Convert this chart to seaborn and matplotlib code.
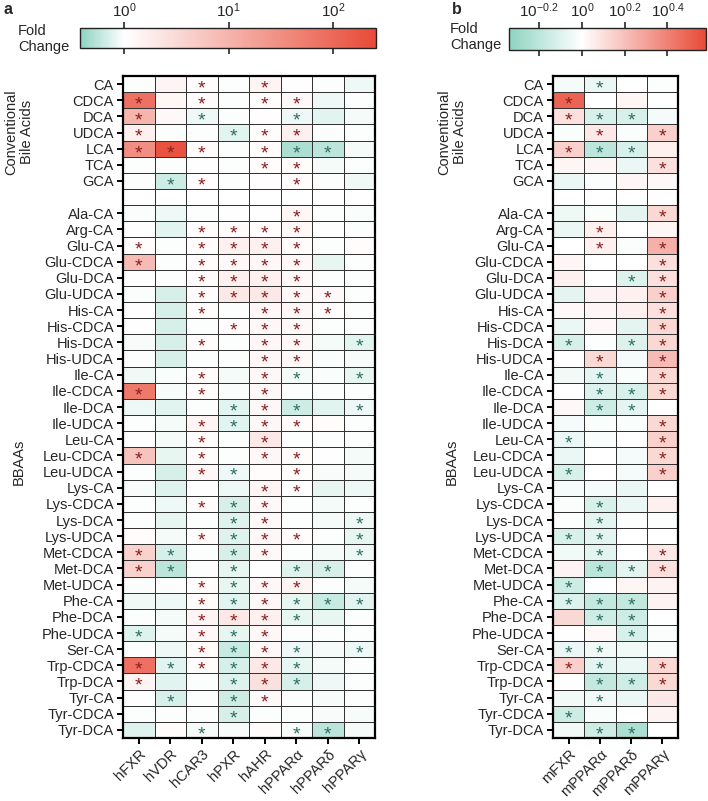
import numpy as np
import pandas as pd
import matplotlib
matplotlib.use("Agg")
import matplotlib.pyplot as plt
import seaborn as sns
from matplotlib.colors import LinearSegmentedColormap

sns.set_style("white")
plt.rcParams['font.family'] = ['Liberation Sans', 'DejaVu Sans']
plt.rcParams['mathtext.default'] = 'regular'

# row names
conventional = ["CA", "CDCA", "DCA", "UDCA", "LCA", "TCA", "GCA"]
bbaas = ["Ala-CA", "Arg-CA", "Glu-CA", "Glu-CDCA", "Glu-DCA", "Glu-UDCA",
         "His-CA", "His-CDCA", "His-DCA", "His-UDCA", "Ile-CA", "Ile-CDCA",
         "Ile-DCA", "Ile-UDCA", "Leu-CA", "Leu-CDCA", "Leu-UDCA", "Lys-CA",
         "Lys-CDCA", "Lys-DCA", "Lys-UDCA", "Met-CDCA", "Met-DCA", "Met-UDCA",
         "Phe-CA", "Phe-DCA", "Phe-UDCA", "Ser-CA", "Trp-CDCA", "Trp-DCA",
         "Tyr-CA", "Tyr-CDCA", "Tyr-DCA"]

receptors_a = ["hFXR", "hVDR", "hCAR3", "hPXR", "hAHR", "hPPARα", "hPPARδ", "hPPARγ"]
receptors_b = ["mFXR", "mPPARα", "mPPARδ", "mPPARγ"]

# log10 fold change, one list per row (conventional then BBAAs)
log_fc_a = [
    [0.00, 0.15, 0.05, 0.00, 0.15, 0.02, 0.00, -0.06],
    [1.90, 0.12, 0.05, 0.00, 0.05, 0.08, -0.06, 0.00],
    [1.00, 0.08, -0.06, 0.00, 0.03, -0.06, -0.10, -0.04],
    [0.20, 0.00, 0.00, -0.10, 0.05, 0.20, 0.00, 0.00],
    [1.50, 2.30, 0.05, 0.00, 0.05, -0.30, -0.25, -0.04],
    [0.00, 0.00, 0.02, 0.00, 0.05, 0.05, -0.04, 0.00],
    [0.00, -0.18, 0.03, 0.00, 0.03, 0.05, 0.00, -0.05],
    [-0.02, -0.06, 0.00, 0.02, 0.02, 0.12, 0.00, -0.02],
    [0.02, -0.10, 0.03, 0.05, 0.05, 0.08, 0.02, 0.00],
    [0.05, 0.00, 0.05, 0.20, 0.20, 0.05, 0.00, 0.05],
    [0.90, 0.00, 0.05, 0.08, 0.10, 0.08, -0.08, 0.00],
    [0.02, 0.00, 0.05, 0.20, 0.20, 0.08, 0.00, 0.00],
    [-0.02, -0.15, 0.05, 0.30, 0.30, 0.10, 0.08, 0.00],
    [0.02, -0.15, 0.05, 0.00, 0.10, 0.10, 0.05, 0.00],
    [0.02, -0.15, 0.00, 0.05, 0.10, 0.08, 0.00, 0.00],
    [-0.03, -0.15, 0.05, 0.00, 0.10, 0.10, -0.04, -0.10],
    [0.00, -0.15, 0.00, 0.00, 0.10, 0.08, -0.02, -0.03],
    [-0.05, -0.02, 0.05, -0.04, 0.10, -0.04, -0.02, -0.08],
    [1.80, -0.03, 0.05, -0.02, 0.10, 0.00, 0.00, 0.00],
    [-0.06, -0.10, 0.00, -0.10, 0.10, -0.18, -0.10, -0.06],
    [0.00, -0.04, 0.15, -0.10, 0.10, 0.05, 0.05, 0.00],
    [0.02, -0.04, 0.05, 0.00, 0.30, 0.00, 0.00, 0.00],
    [0.80, -0.08, 0.05, 0.00, 0.10, 0.05, 0.02, -0.04],
    [0.00, -0.15, 0.10, -0.06, 0.05, 0.05, -0.03, -0.04],
    [-0.03, -0.12, 0.02, -0.06, 0.15, 0.02, -0.08, -0.06],
    [0.00, -0.06, 0.05, -0.15, 0.08, 0.00, -0.04, 0.00],
    [0.00, -0.08, 0.00, -0.12, 0.08, 0.00, -0.04, -0.06],
    [0.05, -0.04, 0.05, -0.12, 0.10, 0.05, 0.00, -0.08],
    [0.60, -0.15, 0.00, -0.15, 0.08, 0.00, -0.04, -0.06],
    [0.60, -0.25, 0.00, -0.08, 0.02, -0.12, -0.15, 0.00],
    [0.00, 0.00, 0.05, -0.08, 0.10, 0.15, 0.00, -0.04],
    [-0.05, -0.06, 0.05, -0.10, 0.10, -0.08, -0.20, -0.10],
    [0.00, -0.04, 0.15, 0.30, 0.20, -0.08, -0.08, 0.00],
    [-0.12, -0.04, 0.08, -0.08, 0.10, 0.00, 0.00, 0.00],
    [0.00, -0.06, 0.05, -0.20, 0.08, -0.06, -0.04, -0.06],
    [1.90, -0.10, 0.05, -0.15, 0.30, -0.08, -0.04, 0.00],
    [0.15, -0.10, 0.00, -0.12, 0.40, -0.15, -0.06, 0.00],
    [0.02, -0.15, 0.00, -0.18, 0.08, 0.00, -0.03, 0.00],
    [0.00, 0.00, 0.00, -0.15, 0.00, 0.00, -0.03, -0.03],
    [-0.12, 0.05, -0.04, -0.03, 0.05, -0.03, -0.25, -0.04],
]

# significance, "*" = significant
sig_a = [
    "..*.*...", "*.*.**..", "*.*..*..", "*..***..", "***.***.", "....**..", ".**..*..",
    ".....*..", "..****..", "*.****..", "*.****..", "..****..", "..*****.",
    "..*.***.", "...***..", "..*.**.*", "....**..", "..*.**.*", "*.*.*...",
    "...***.*", "..****..", "..*.*...", "*.*.**..", "..**.*..", "....**..",
    "..***...", "...**..*", "..****.*", "**.**..*", "**.*.**.", "..****..",
    "..******", "..****..", "*.***...", "..****.*", "******..", "*..***..",
    ".*.**...", "...*....", "..*..**.",
]

log_fc_b = [
    [-0.03, -0.06, 0.00, -0.01],
    [0.50, 0.00, 0.03, 0.00],
    [0.10, -0.12, -0.12, -0.03],
    [-0.02, 0.07, -0.02, 0.15],
    [0.15, -0.20, -0.12, 0.05],
    [0.03, 0.03, -0.06, 0.10],
    [-0.06, -0.02, 0.03, 0.02],
    [-0.05, -0.02, -0.08, 0.12],
    [-0.06, 0.05, 0.00, 0.03],
    [0.00, 0.05, -0.02, 0.25],
    [0.03, 0.00, 0.00, 0.10],
    [0.05, 0.00, -0.10, 0.10],
    [-0.08, 0.04, 0.05, 0.15],
    [0.02, 0.03, 0.05, 0.10],
    [-0.06, 0.02, -0.08, 0.12],
    [-0.12, -0.01, -0.10, 0.12],
    [0.00, 0.12, -0.03, 0.22],
    [-0.04, -0.08, -0.02, 0.12],
    [0.00, -0.10, -0.12, 0.12],
    [0.02, -0.15, -0.08, 0.00],
    [-0.03, -0.02, -0.02, 0.12],
    [-0.06, -0.02, 0.00, 0.15],
    [-0.06, 0.00, -0.03, 0.12],
    [-0.12, 0.00, -0.03, 0.15],
    [-0.03, -0.03, -0.06, 0.00],
    [-0.02, -0.12, -0.06, 0.05],
    [-0.01, -0.08, -0.02, -0.02],
    [-0.12, -0.08, 0.00, 0.00],
    [-0.04, -0.08, 0.00, 0.07],
    [0.04, -0.20, -0.08, 0.10],
    [-0.15, 0.00, 0.03, 0.04],
    [-0.10, -0.18, -0.18, 0.04],
    [0.12, -0.15, -0.15, 0.00],
    [0.00, 0.02, -0.12, -0.02],
    [-0.06, -0.04, -0.04, -0.02],
    [0.15, -0.08, -0.06, 0.12],
    [0.00, -0.18, -0.15, 0.12],
    [-0.04, -0.04, -0.06, 0.07],
    [-0.15, -0.02, 0.00, 0.04],
    [-0.04, -0.15, -0.25, 0.00],
]

sig_b = [
    ".*..", "*...", "***.", ".*.*", "***.", "...*", "....",
    "...*", ".*..", ".*.*", "...*", "..**", "...*", "...*", "...*",
    "*.**", ".*.*", ".*.*", ".***", ".**.", "...*", "*..*", "...*",
    "*..*", "....", ".*..", ".*..", "**..", ".*.*", ".***", "*...",
    "***.", ".**.", "..*.", "**..", "**.*", ".***", ".*..", "*...", ".**.",
]

ticks_a = [0, 1, 2]
ticks_b = [-0.2, 0, 0.2, 0.4]

TEAL = "#8ed4c2"
RED = "#e84a38"
STAR_UP = "#8b1f1f"
STAR_DOWN = "#2f6e62"

W, H = 708, 801


def px_axes(fig, x0, y0, x1, y1):
    return fig.add_axes([x0 / W, 1 - y1 / H, (x1 - x0) / W, (y1 - y0) / H])


def build_frame(values, cols):
    rows = conventional + [""] + bbaas
    data = values[:len(conventional)] + [[np.nan] * len(cols)] + values[len(conventional):]
    return pd.DataFrame(data, index=rows, columns=cols)


def draw_panel(fig, box, cbox, values, sig, cols, vmin, vmax, ticks, fmt):
    df = build_frame(values, cols)
    sig_rows = sig[:len(conventional)] + [None] + sig[len(conventional):]

    white_at = -vmin / (vmax - vmin)
    cmap = LinearSegmentedColormap.from_list(
        "fc", [(0, TEAL), (white_at, "white"), (1, RED)])

    ax = px_axes(fig, *box)
    cax = px_axes(fig, *cbox)
    sns.heatmap(df, ax=ax, cmap=cmap, vmin=vmin, vmax=vmax,
                linewidths=0.5, linecolor="#333333",
                cbar_ax=cax, cbar_kws={"orientation": "horizontal"},
                xticklabels=cols, yticklabels=False)

    # asterisks
    for i, s in enumerate(sig_rows):
        if s is None:
            continue
        for j, c in enumerate(s):
            if c == "*":
                v = df.iloc[i, j]
                ax.text(j + 0.5, i + 0.8, "*", ha="center", va="center",
                        fontsize=14, color=STAR_UP if v > 0 else STAR_DOWN)

    # y ticks without the gap row
    ypos = [i + 0.5 for i, r in enumerate(df.index) if r]
    ax.set_yticks(ypos)
    ax.set_yticklabels([r for r in df.index if r], fontsize=10.5)
    ax.set_xticklabels(cols, rotation=45, ha="right", rotation_mode="anchor",
                       fontsize=10.5)
    ax.tick_params(axis="both", which="major", direction="out", length=4.5,
                   width=1.4, color="black", left=True, bottom=True, pad=2)
    ax.set_xlabel("")
    ax.set_ylabel("")
    for sp in ax.spines.values():
        sp.set_visible(True)
        sp.set_linewidth(1.6)
        sp.set_color("black")

    cbar = ax.collections[0].colorbar
    cbar.set_ticks(ticks)
    cbar.set_ticklabels([fmt(t) for t in ticks])
    cbar.outline.set_visible(True)
    cbar.outline.set_linewidth(1.0)
    cbar.outline.set_edgecolor("#222222")
    cax.tick_params(axis="x", top=True, bottom=True, labeltop=True,
                    labelbottom=False, direction="out", length=4,
                    width=1.2, labelsize=11, pad=2)
    return ax


fig = plt.figure(figsize=(W / 100, H / 100), dpi=100)

draw_panel(fig, (123, 76, 375, 738), (80, 28, 376, 48),
           log_fc_a, sig_a, receptors_a, -0.42, 2.41, ticks_a,
           lambda t: f"$10^{{{t}}}$")
draw_panel(fig, (553, 76, 678, 738), (509, 28, 706, 50),
           log_fc_b, sig_b, receptors_b, -0.34, 0.58, ticks_b,
           lambda t: f"$10^{{{t:g}}}$")

# group labels
for x in (19, 452):
    fig.text(x / W, 1 - 132 / H, "Conventional\nBile Acids", rotation=90,
             ha="center", va="center", fontsize=10.5, linespacing=1.1)
    fig.text(x / W, 1 - 462 / H, "BBAAs", rotation=90,
             ha="center", va="center", fontsize=10.5)

fig.text(18 / W, 1 - 39 / H, "Fold\nChange", ha="left", va="center",
         fontsize=10.5, linespacing=1.1)
fig.text(450 / W, 1 - 37 / H, "Fold\nChange", ha="left", va="center",
         fontsize=10.5, linespacing=1.1)

fig.text(3 / W, 1 - 10 / H, "a", ha="left", va="center", fontsize=11.5,
         fontweight="bold")
fig.text(452 / W, 1 - 10 / H, "b", ha="left", va="center", fontsize=11.5,
         fontweight="bold")

fig.savefig("out.png", dpi=100)
